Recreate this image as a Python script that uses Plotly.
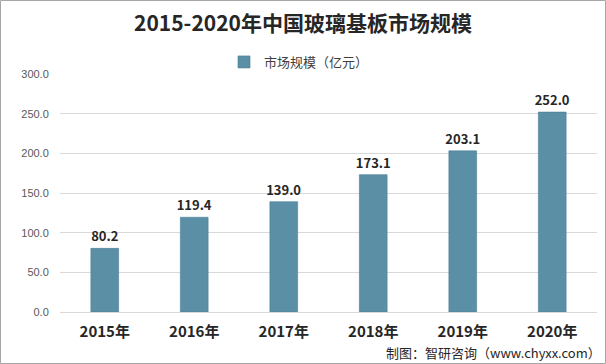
import plotly.graph_objects as go

years = ["2015年", "2016年", "2017年", "2018年", "2019年", "2020年"]
values = [80.2, 119.4, 139.0, 173.1, 203.1, 252.0]
series_name = "市场规模（亿元）"
title_text = "2015-2020年中国玻璃基板市场规模"
source_text = "制图：智研咨询（www.chyxx.com）"

font_family = "Noto Sans CJK SC, Noto Sans, sans-serif"

fig = go.Figure()
fig.add_trace(go.Bar(
    x=years, y=values, name=series_name,
    marker=dict(color="#5B8FA6", line=dict(color="#4A7E96", width=0.6)),
    text=values, texttemplate="%{y:.1f}", textposition="outside",
    constraintext="none",
    textfont=dict(family=font_family, size=13, color="#262626", weight="bold"),
    cliponaxis=False,
))

fig.update_layout(
    width=606, height=364,
    margin=dict(l=60, r=9, t=74, b=52, autoexpand=False),
    paper_bgcolor="white", plot_bgcolor="white",
    bargap=0.69,
    showlegend=True,
    title=dict(text="<b>" + title_text + "</b>", x=0.5, xanchor="center", y=1 - 24/364, yanchor="middle",
               font=dict(family=font_family, size=21, color="#262626")),
    legend=dict(orientation="h", x=(224-60)/537, xanchor="left", y=1 + 12/238, yanchor="middle",
                font=dict(family=font_family, size=13, color="#404040"), itemwidth=30,
                bgcolor="rgba(0,0,0,0)"),
    xaxis=dict(showgrid=False, showline=True, linecolor="#D9D9D9", linewidth=1,
               ticks="outside", ticklen=6, tickcolor="rgba(0,0,0,0)",
               tickfont=dict(family=font_family, size=15, color="#262626", weight="bold")),
    yaxis=dict(range=[0, 300], dtick=50, tickformat=".1f", showgrid=True, gridcolor="#D9D9D9",
               gridwidth=1, zeroline=False, showline=False,
               ticks="outside", ticklen=8, tickcolor="rgba(0,0,0,0)",
               tickfont=dict(family="Liberation Sans, Arial, sans-serif", size=11, color="#595959")),
    shapes=[dict(type="rect", xref="paper", yref="paper", x0=-59.5/537, x1=1+8.5/537,
                 y0=-51.5/238, y1=1+73.5/238, line=dict(color="#A6A6A6", width=1))],
    annotations=[dict(text=source_text, xref="paper", yref="paper", x=1+6/537, xanchor="right",
                      y=-40/238, yanchor="middle", showarrow=False,
                      font=dict(family=font_family, size=13, color="#262626"))],
)

fig.write_html("out.html", config={"displayModeBar": False},
               post_script="document.body.style.margin='0';document.body.style.overflow='hidden';")
